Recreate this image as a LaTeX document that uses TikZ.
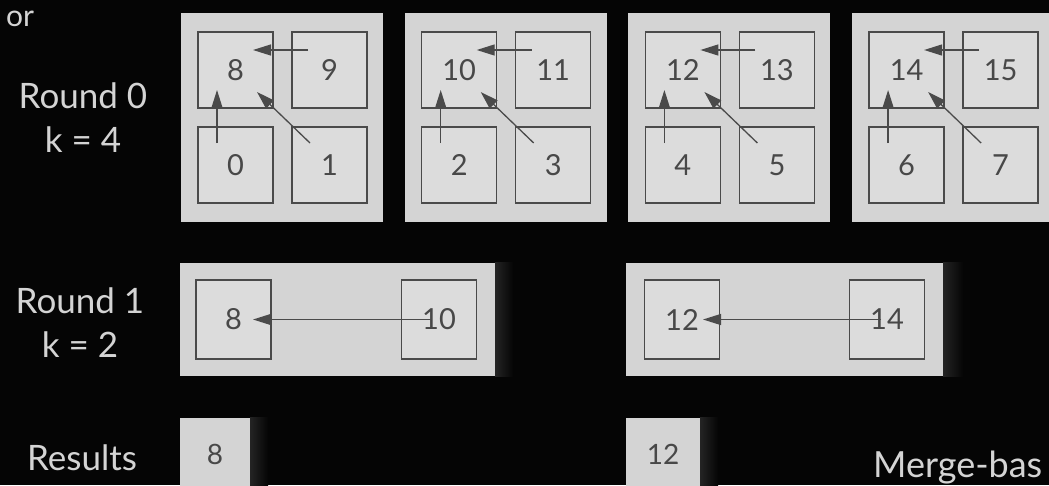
\documentclass[tikz,border=0pt]{standalone}
\usepackage{fontspec}
\setmainfont{Lato}
\usepackage{tikz}
\usetikzlibrary{arrows.meta, calc}
\definecolor{slidebg}{HTML}{050505}
\definecolor{panelfill}{HTML}{D4D4D4}
\definecolor{cellfill}{HTML}{DCDCDC}
\definecolor{celledge}{HTML}{4A4A4A}
\definecolor{digittext}{HTML}{484848}
\definecolor{labeltext}{HTML}{D4D4D4}

\begin{document}
\begin{tikzpicture}[x=1pt, y=-1pt,
        panel/.style={fill=panelfill, draw=none, minimum width=202pt, minimum height=209pt, inner sep=0pt},
        cell/.style={fill=cellfill, draw=celledge, line width=1.4pt, minimum width=75pt, minimum height=76pt, inner sep=0pt, text=digittext, font=\fontsize{29}{29}\selectfont},
        resbox/.style={fill=panelfill, draw=none, minimum width=70pt, minimum height=72pt, inner sep=0pt, text=digittext, font=\fontsize{28}{28}\selectfont},
        lbl/.style={text=labeltext, font=\fontsize{35}{35}\selectfont, anchor=base, inner sep=0pt},
        arr/.style={-{Triangle[length=18pt, width=11pt]}, line width=1.3pt, draw=celledge},
        edgeshade/.style={left color=black!86, right color=slidebg}
    ]
    \useasboundingbox (0,0) rectangle (1049,485);
    \clip (0,0) rectangle (1049,485);
    \fill[slidebg] (0,0) rectangle (1049,485);

    % round 0: four groups of four
    \foreach \i in {0,...,3}{
        \pgfmathsetmacro{\px}{181+223.7*\i}
        \pgfmathtruncatemacro{\tl}{8+2*\i}
        \pgfmathtruncatemacro{\tr}{9+2*\i}
        \pgfmathtruncatemacro{\bl}{2*\i}
        \pgfmathtruncatemacro{\br}{2*\i+1}
        \node[panel] (p\i) at (\px+101,117.5) {};
        \node[cell] (c\tl) at (\px+54.5,70) {\tl};
        \node[cell] (c\tr) at (\px+148.5,70) {\tr};
        \node[cell] (c\bl) at (\px+54.5,165) {\bl};
        \node[cell] (c\br) at (\px+148.5,165) {\br};
        \draw[arr] ($(c\tr.center)+(-21.5,-20)$) -- ($(c\tl.center)+(17.5,-20)$);
        \draw[arr] ($(c\bl.center)+(-18.5,-22)$) -- ($(c\tl.center)+(-18.5,20)$);
        \draw[arr] ($(c\br.center)+(-19.5,-22)$) -- ($(c\tl.center)+(21.5,22)$);
    }

    % round 1
    \node[panel, minimum width=315pt, minimum height=113pt] (q0) at (337.5,319.5) {};
    \node[panel, minimum width=317pt, minimum height=113pt] (q1) at (784.5,319.5) {};
    \shade[edgeshade] (q0.north east) rectangle ($(q0.south east)+(18,0)$);
    \shade[edgeshade] (q1.north east) rectangle ($(q1.south east)+(20,0)$);
    \node[cell, minimum height=79pt] (r8) at (233.5,319.5) {8};
    \node[cell, minimum height=79pt] (r10) at (439,319.5) {10};
    \node[cell, minimum height=79pt] (r12) at (682,319.5) {12};
    \node[cell, minimum height=79pt] (r14) at (887,319.5) {14};
    \draw[arr] ($(r10.center)+(-8,0)$) -- ($(r8.center)+(19.5,0)$);
    \draw[arr] ($(r14.center)+(-6,0)$) -- ($(r12.center)+(21,0)$);

    % results
    \node[resbox] (s8) at (215,454) {8};
    \node[resbox, minimum width=74pt] (s12) at (663,454) {12};
    \shade[edgeshade] (s8.north east) rectangle ($(s8.south east)+(18,0)$);
    \shade[edgeshade] (s12.north east) rectangle ($(s12.south east)+(18,0)$);

    % labels
    \node[lbl, font=\fontsize{30}{30}\selectfont] (t0) at (20,26) {or};
    \node[lbl] (l0a) at (83,108) {Round 0};
    \node[lbl] (l0b) at (83,152) {k = 4};
    \node[lbl] (l1a) at (80,313) {Round 1};
    \node[lbl] (l1b) at (80,357) {k = 2};
    \node[lbl] (l2) at (82,470) {Results};
    \node[lbl, anchor=base west, font=\fontsize{36}{36}\selectfont] (mb) at (873,477) {Merge-bas};
\end{tikzpicture}
\end{document}
